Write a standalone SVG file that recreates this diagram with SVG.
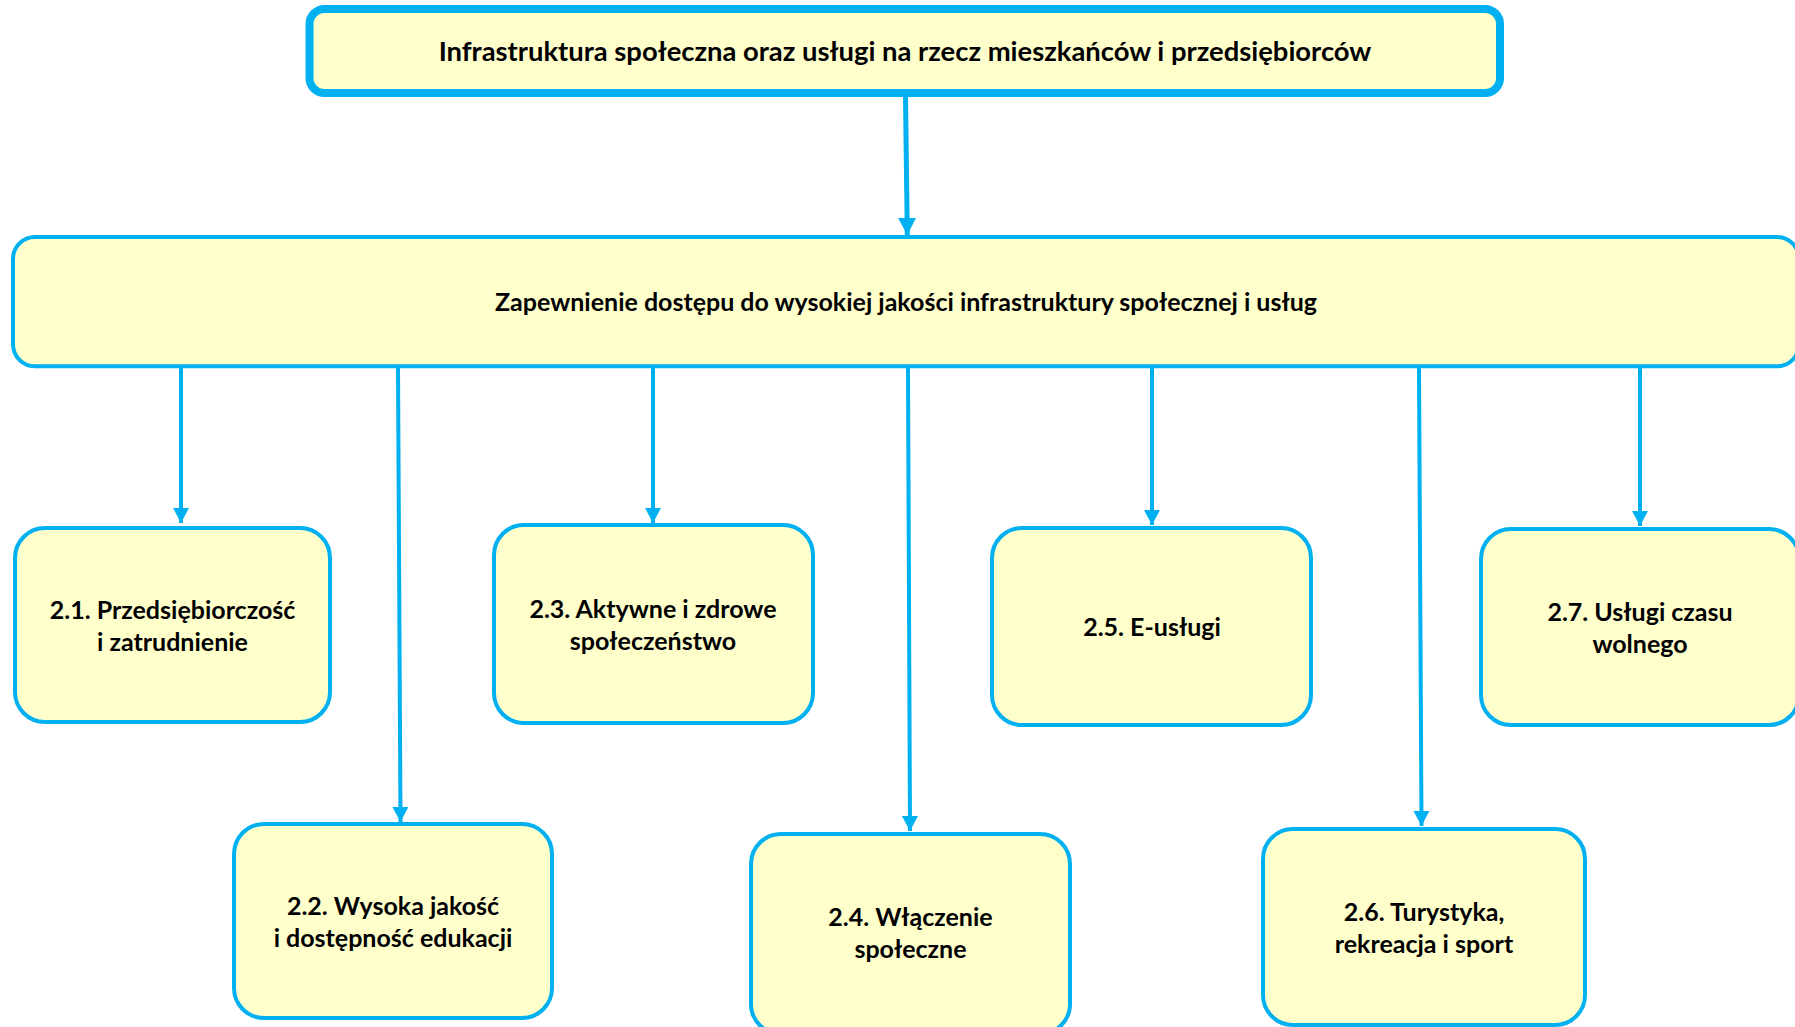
<svg xmlns="http://www.w3.org/2000/svg" width="1795" height="1027" viewBox="0 0 1795 1027">
<style>
.box{fill:#FFFFCC;stroke:#00B0F0;stroke-width:4}
.top{fill:#FFFFCC;stroke:#00B0F0;stroke-width:8}
.t{font-family:Lato,"Liberation Sans",sans-serif;font-weight:700;font-size:25px;fill:#000;text-anchor:middle}
.tt{font-size:27.4px}
.c{fill:none;stroke:#00B0F0;stroke-width:4}
.c0{fill:none;stroke:#00B0F0;stroke-width:5}
</style>
<defs>
<marker id="ah" markerUnits="userSpaceOnUse" markerWidth="16" markerHeight="16" refX="15" refY="8" orient="auto">
<path d="M0,0 L15,8 L0,16 Z" fill="#00B0F0"/>
</marker>
<marker id="ah0" markerUnits="userSpaceOnUse" markerWidth="18" markerHeight="18" refX="17" refY="9" orient="auto">
<path d="M0,0 L17,9 L0,18 Z" fill="#00B0F0"/>
</marker>
</defs>
<rect width="1795" height="1027" fill="#fff"/>
<g id="connectors">
<path class="c0" d="M905.5,97 L907.3,235" marker-end="url(#ah0)"/>
<path class="c" d="M181,368 L181,523" marker-end="url(#ah)"/>
<path class="c" d="M398,368 L400.5,822" marker-end="url(#ah)"/>
<path class="c" d="M653,368 L653,523" marker-end="url(#ah)"/>
<path class="c" d="M908,368 L910,831" marker-end="url(#ah)"/>
<path class="c" d="M1152,368 L1152,525" marker-end="url(#ah)"/>
<path class="c" d="M1419,368 L1421.5,826" marker-end="url(#ah)"/>
<path class="c" d="M1640,368 L1640,526" marker-end="url(#ah)"/>
</g>
<g id="n0">
<rect class="top" x="309.5" y="9" width="1190.5" height="84" rx="15"/>
<text class="t tt" x="905" y="61">Infrastruktura społeczna oraz usługi na rzecz mieszkańców i przedsiębiorców</text>
</g>
<g id="n1">
<rect class="box" x="13" y="237" width="1786" height="129.3" rx="22"/>
<text class="t" x="906" y="311">Zapewnienie dostępu do wysokiej jakości infrastruktury społecznej i usług</text>
</g>
<g id="n21">
<rect class="box" x="15" y="528" width="315" height="194" rx="30"/>
<text class="t" x="172.5" y="619">2.1. Przedsiębiorczość</text>
<text class="t" x="172.5" y="651">i zatrudnienie</text>
</g>
<g id="n22">
<rect class="box" x="234" y="824" width="318" height="194" rx="30"/>
<text class="t" x="393" y="915">2.2. Wysoka jakość</text>
<text class="t" x="393" y="947">i dostępność edukacji</text>
</g>
<g id="n23">
<rect class="box" x="494" y="525" width="319" height="198" rx="30"/>
<text class="t" x="653" y="618">2.3. Aktywne i zdrowe</text>
<text class="t" x="653" y="650">społeczeństwo</text>
</g>
<g id="n24">
<rect class="box" x="751" y="834" width="319" height="200" rx="30"/>
<text class="t" x="910.5" y="926">2.4. Włączenie</text>
<text class="t" x="910.5" y="958">społeczne</text>
</g>
<g id="n25">
<rect class="box" x="992" y="528" width="319" height="197" rx="30"/>
<text class="t" x="1152" y="636">2.5. E-usługi</text>
</g>
<g id="n26">
<rect class="box" x="1263" y="829" width="322" height="196" rx="30"/>
<text class="t" x="1424" y="921">2.6. Turystyka,</text>
<text class="t" x="1424" y="953">rekreacja i sport</text>
</g>
<g id="n27">
<rect class="box" x="1481" y="529" width="318" height="196" rx="30"/>
<text class="t" x="1640" y="621">2.7. Usługi czasu</text>
<text class="t" x="1640" y="653">wolnego</text>
</g>
</svg>
